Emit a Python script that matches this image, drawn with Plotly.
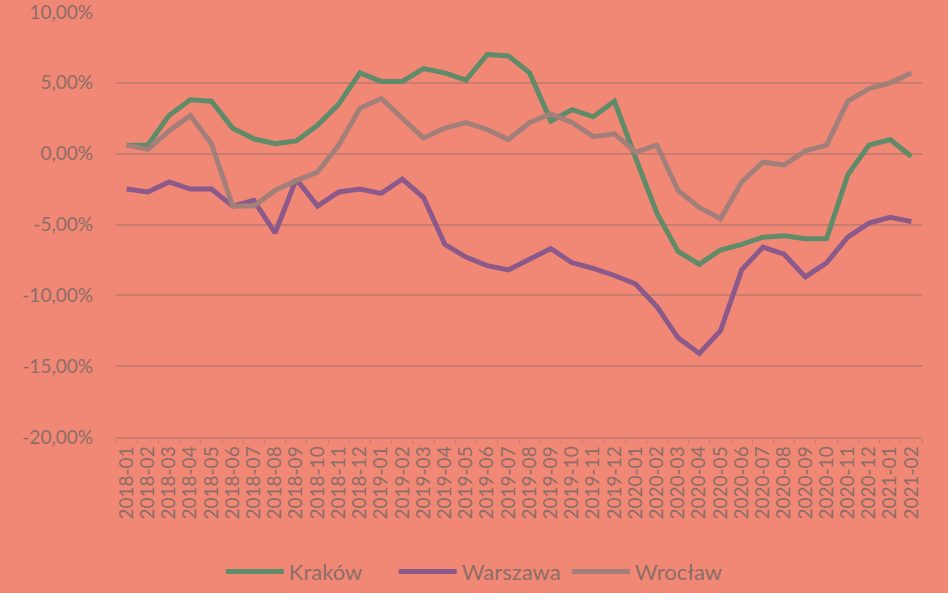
import plotly.graph_objects as go

months = ["2018-01","2018-02","2018-03","2018-04","2018-05","2018-06","2018-07","2018-08","2018-09","2018-10","2018-11","2018-12",
          "2019-01","2019-02","2019-03","2019-04","2019-05","2019-06","2019-07","2019-08","2019-09","2019-10","2019-11","2019-12",
          "2020-01","2020-02","2020-03","2020-04","2020-05","2020-06","2020-07","2020-08","2020-09","2020-10","2020-11","2020-12",
          "2021-01","2021-02"]

krakow = [0.6, 0.6, 2.7, 3.8, 3.7, 1.8, 1.05, 0.7, 0.9, 2.0, 3.5, 5.7,
          5.1, 5.1, 6.0, 5.7, 5.2, 7.0, 6.9, 5.7, 2.3, 3.1, 2.6, 3.7,
          -0.3, -4.2, -6.9, -7.8, -6.8, -6.4, -5.9, -5.8, -6.0, -6.0, -1.5, 0.6,
          1.0, -0.2]

warszawa = [-2.5, -2.7, -2.0, -2.5, -2.5, -3.7, -3.3, -5.6, -1.8, -3.7, -2.7, -2.5,
            -2.8, -1.8, -3.1, -6.4, -7.3, -7.9, -8.2, -7.4, -6.7, -7.7, -8.1, -8.6,
            -9.2, -10.8, -13.0, -14.1, -12.5, -8.2, -6.6, -7.1, -8.7, -7.7, -5.9, -4.9,
            -4.5, -4.8]

wroclaw = [0.6, 0.3, 1.6, 2.7, 0.7, -3.7, -3.7, -2.6, -1.9, -1.3, 0.6, 3.2,
           3.9, 2.5, 1.1, 1.8, 2.2, 1.7, 1.0, 2.2, 2.8, 2.2, 1.2, 1.4,
           0.1, 0.6, -2.6, -3.8, -4.6, -2.0, -0.6, -0.8, 0.2, 0.6, 3.7, 4.6,
           5.0, 5.7]

series_names = ["Kraków", "Warszawa", "Wrocław"]
series_colors = ["#5f8b68", "#8c5a8a", "#a37f7a"]
y_ticks = [-20, -15, -10, -5, 0, 5, 10]
y_tick_labels = ["-20,00%", "-15,00%", "-10,00%", "-5,00%", "0,00%", "5,00%", "10,00%"]

bg = "#f18875"
text_col = "#8c6d68"
grid_col = "#c97d70"

fig = go.Figure()
for name, vals, col in zip(series_names, [krakow, warszawa, wroclaw], series_colors):
    fig.add_trace(go.Scatter(x=months, y=vals, mode="lines", name=name,
                             line=dict(color=col, width=5)))

fig.update_layout(
    width=948, height=593,
    paper_bgcolor=bg, plot_bgcolor=bg,
    margin=dict(l=116, r=26, t=12, b=156, autoexpand=False),
    font=dict(family="Lato", size=20, color=text_col),
    showlegend=True,
    legend=dict(orientation="h", x=0.452, xanchor="center", y=-0.317, yanchor="middle",
                font=dict(size=22, color=text_col), bgcolor="rgba(0,0,0,0)",
                itemwidth=58, tracegroupgap=0, entrywidth=100, entrywidthmode="pixels"),
)
fig.update_xaxes(type="category", tickangle=-90, showgrid=False, showline=True,
                 linecolor=grid_col, linewidth=1.5, ticks="outside", tickson="boundaries",
                 ticklen=5, tickcolor=grid_col, tickfont=dict(size=19, color=text_col),
                 tickmode="array", tickvals=months, ticktext=months,
                 range=[-0.5, len(months) - 0.5], automargin=False)
fig.update_yaxes(range=[-20, 10], tickmode="array", tickvals=y_ticks, ticktext=y_tick_labels,
                 showgrid=True, gridcolor=grid_col, gridwidth=1.5, zeroline=False,
                 tickfont=dict(size=19, color=text_col), ticks="", ticklabelstandoff=22,
                 ticklabeloverflow="allow", automargin=False)

fig.write_html("out.html", config={"displayModeBar": False},
               post_script="document.body.style.margin='0';document.body.style.background='" + bg + "';")
